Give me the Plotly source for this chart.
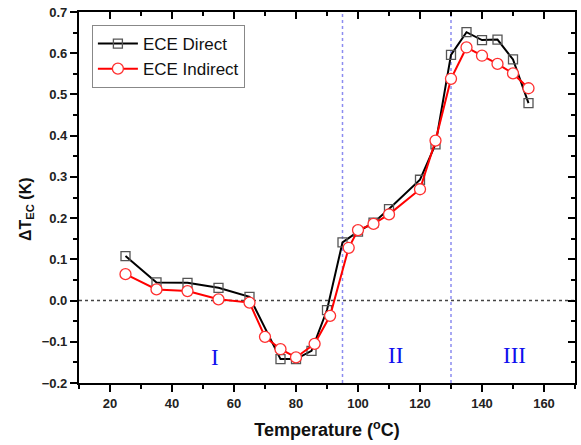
import plotly.graph_objects as go

# Electrocaloric temperature change vs. temperature
temp_direct = [25, 35, 45, 55, 65, 75, 80, 85, 90, 95, 100, 105, 110, 120, 125, 130, 135, 140, 145, 150, 155]
dT_direct = [0.108, 0.044, 0.043, 0.031, 0.009, -0.142, -0.142, -0.122, -0.023, 0.141, 0.167, 0.189, 0.222,
             0.293, 0.379, 0.596, 0.651, 0.632, 0.633, 0.585, 0.479]

temp_indirect = [25, 35, 45, 55, 65, 70, 75, 80, 86, 91, 97, 100, 105, 110, 120, 125, 130, 135, 140, 145, 150, 155]
dT_indirect = [0.064, 0.027, 0.023, 0.003, -0.005, -0.088, -0.118, -0.138, -0.105, -0.037, 0.128, 0.171, 0.186,
               0.209, 0.270, 0.388, 0.538, 0.614, 0.594, 0.574, 0.551, 0.515]

region_bounds = [95, 130]
region_labels = ["I", "II", "III"]
region_label_x = [54, 112, 150.5]
region_label_y = [-0.137, -0.133, -0.133]

x_range = [10, 170]
y_range = [-0.2, 0.7]

fig = go.Figure()

fig.add_trace(go.Scatter(
    x=temp_direct, y=dT_direct, name="ECE Direct", mode="lines+markers",
    line=dict(color="black", width=2),
    marker=dict(symbol="square-open", size=9, color="#555555", line=dict(width=1.3)),
))
fig.add_trace(go.Scatter(
    x=temp_indirect, y=dT_indirect, name="ECE Indirect", mode="lines+markers",
    line=dict(color="#ff0000", width=2),
    marker=dict(symbol="circle", size=11, color="white", line=dict(color="#ff3030", width=1.3)),
))
# invisible trace that carries the mirrored top/right axes
fig.add_trace(go.Scatter(x=[x_range[0]], y=[y_range[0]], xaxis="x2", yaxis="y2",
                         mode="markers", marker=dict(opacity=0), showlegend=False, hoverinfo="skip"))

# zero reference line and region boundaries
fig.add_hline(y=0, line=dict(color="#444444", width=1.5, dash="dot"), layer="below")
for b in region_bounds:
    fig.add_vline(x=b, line=dict(color="#8c8cf0", width=1.5, dash="dot"), layer="below")

for lab, lx, ly in zip(region_labels, region_label_x, region_label_y):
    fig.add_annotation(x=lx, y=ly, text=lab, showarrow=False,
                       font=dict(family="Liberation Serif, Times New Roman, serif", size=23, color="#1010ee"))

# y-axis title placed as an annotation so it sits slightly below the plot centre
fig.add_annotation(xref="paper", yref="paper", x=-0.107, y=0.469, text="ΔT<sub>EC</sub> (K)",
                   textangle=-90, showarrow=False, xanchor="center", yanchor="middle",
                   font=dict(family="Liberation Sans, Arial, sans-serif", size=16, weight="bold", color="#111111"))

tickfont = dict(family="Liberation Sans, Arial, sans-serif", size=13, color="#222222", weight="bold")
axis_common = dict(showline=True, linecolor="black", linewidth=2.2, showgrid=False, zeroline=False,
                   ticklen=7, tickwidth=2, tickcolor="black")

fig.update_layout(
    width=581, height=445,
    margin=dict(l=79, r=6, t=12, b=62),
    plot_bgcolor="white", paper_bgcolor="white",
    font=dict(family="Liberation Sans, Arial, sans-serif", color="#111111"),
    xaxis=dict(range=x_range, dtick=20, tick0=0, ticks="outside", tickfont=tickfont,
               minor=dict(dtick=10, ticks="outside", ticklen=4, tickwidth=2, tickcolor="black"),
               title=dict(text="Temperature (<sup>o</sup>C)", standoff=14,
                          font=dict(size=18, weight="bold", color="#111111")),
               **axis_common),
    yaxis=dict(range=y_range, dtick=0.1, tick0=0, ticks="outside", tickfont=tickfont, tickformat=".1f",
               minor=dict(dtick=0.05, ticks="outside", ticklen=4, tickwidth=2, tickcolor="black"),
               **axis_common),
    xaxis2=dict(range=x_range, overlaying="x", side="top", anchor="y", dtick=20, tick0=0, ticks="inside",
                showticklabels=False,
                minor=dict(dtick=10, ticks="inside", ticklen=4, tickwidth=2, tickcolor="black"),
                **axis_common),
    yaxis2=dict(range=y_range, overlaying="y", side="right", anchor="x", dtick=0.1, tick0=0, ticks="inside",
                showticklabels=False,
                minor=dict(dtick=0.05, ticks="inside", ticklen=4, tickwidth=2, tickcolor="black"),
                **axis_common),
    legend=dict(x=0.026, y=0.965, xanchor="left", yanchor="top",
                bgcolor="white", bordercolor="#888888", borderwidth=1,
                font=dict(size=17, color="#111111"), tracegroupgap=0, itemwidth=40),
    showlegend=True,
)

fig.write_html("out.html")
